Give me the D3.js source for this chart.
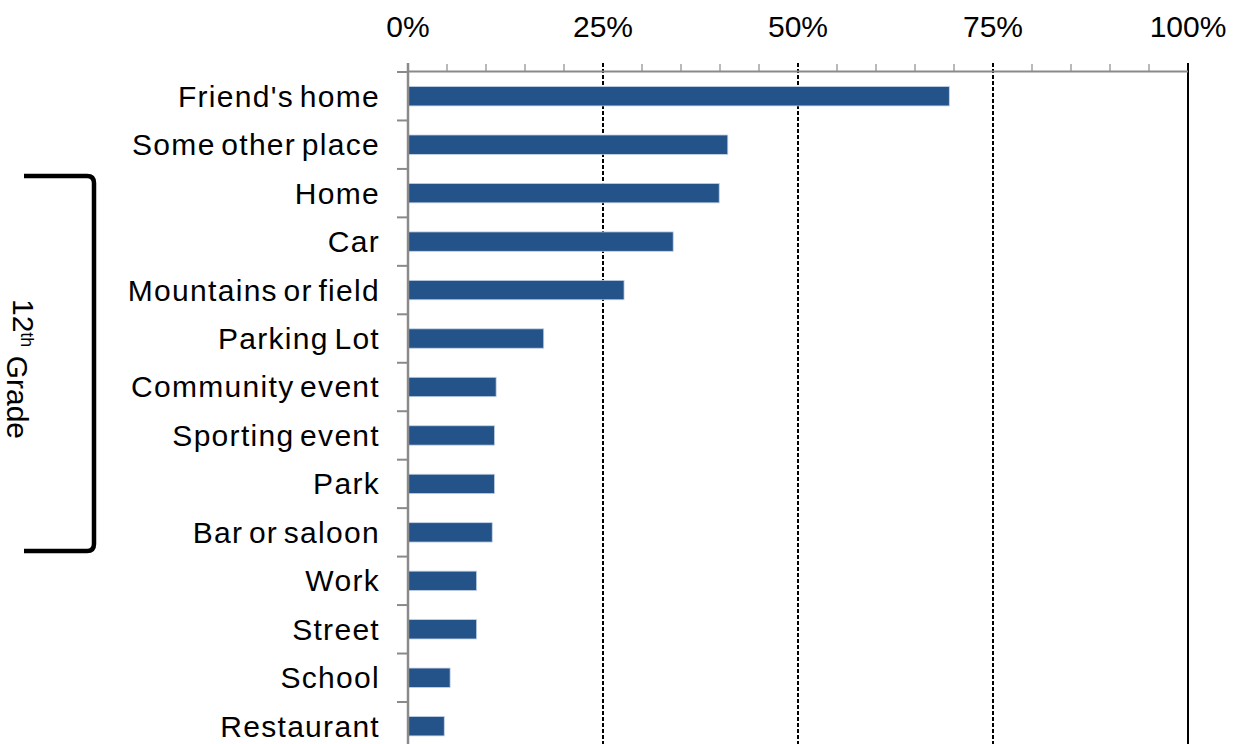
<!DOCTYPE html>
<html>
<head>
<meta charset="utf-8">
<script src="https://cdn.jsdelivr.net/npm/d3@7"></script>
<style>
  html, body { margin: 0; padding: 0; background: #fff; }
  svg { display: block; }
  text { font-family: "Liberation Sans", Arial, sans-serif; fill: #000; }
</style>
</head>
<body>
<div id="chart"></div>
<script>
const categories = ["Friend's home", "Some other place", "Home", "Car", "Mountains or field",
  "Parking Lot", "Community event", "Sporting event", "Park", "Bar or saloon",
  "Work", "Street", "School", "Restaurant"];
const values = [69.4, 41.0, 39.9, 34.0, 27.7, 17.4, 11.3, 11.1, 11.1, 10.8, 8.8, 8.8, 5.4, 4.65];
const majorTicks = [0, 25, 50, 75, 100];
const minorTicks = d3.range(0, 101, 5);
const bracketLabel = "12";
const bracketSup = "th";
const bracketWord = " Grade";

const W = 1243, H = 744;
const svg = d3.select("#chart").append("svg").attr("width", W).attr("height", H);

const x = d3.scaleLinear().domain([0, 100]).range([408, 1188]);
const step = 48.46;
const y = d3.scaleBand().domain(categories)
  .range([72, 72 + step * categories.length])
  .paddingInner(0.6).paddingOuter(0.3);

const axisY = 71.5;
const gridTop = 63;

// gridlines (dashed at 25,50,75; solid at 100)
svg.append("g").selectAll("line").data(majorTicks.filter(d => d > 0)).join("line")
  .attr("x1", d => x(d)).attr("x2", d => x(d))
  .attr("y1", gridTop).attr("y2", H + 10)
  .attr("stroke", "#000").attr("stroke-width", 2)
  .attr("stroke-dasharray", d => d === 100 ? null : "4,2");

// bars
svg.append("g").selectAll("rect").data(categories).join("rect")
  .attr("x", x(0))
  .attr("y", d => y(d))
  .attr("width", (d, i) => x(values[i]) - x(0))
  .attr("height", y.bandwidth())
  .attr("fill", "#245389")
  .attr("stroke", "#c3d2e6").attr("stroke-width", 0.8);

// top axis line and minor ticks
svg.append("line").attr("x1", x(0)).attr("x2", x(100)).attr("y1", axisY).attr("y2", axisY)
  .attr("stroke", "#8a8a8a").attr("stroke-width", 2);
svg.append("g").selectAll("line").data(minorTicks.filter(d => d % 25 !== 0)).join("line")
  .attr("x1", d => x(d)).attr("x2", d => x(d))
  .attr("y1", gridTop + 1).attr("y2", axisY)
  .attr("stroke", "#8a8a8a").attr("stroke-width", 1.2);

// top tick labels
svg.append("g").selectAll("text").data(majorTicks).join("text")
  .attr("x", d => x(d)).attr("y", 37)
  .attr("text-anchor", "middle")
  .style("font-size", "30px")
  .text(d => d + "%");

// left axis line
svg.append("line").attr("x1", x(0)).attr("x2", x(0)).attr("y1", gridTop).attr("y2", H + 10)
  .attr("stroke", "#8a8a8a").attr("stroke-width", 2.5);
// category boundary ticks
const bounds = d3.range(categories.length + 1).map(k => y.range()[0] + k * y.step());
svg.append("g").selectAll("line").data(bounds).join("line")
  .attr("x1", x(0) - 11).attr("x2", x(0))
  .attr("y1", d => d).attr("y2", d => d)
  .attr("stroke", "#8a8a8a").attr("stroke-width", 2);

// category labels
svg.append("g").selectAll("text").data(categories).join("text")
  .attr("x", 380)
  .attr("y", d => y(d) + y.bandwidth() / 2)
  .attr("dy", "0.35em")
  .attr("text-anchor", "end")
  .style("font-size", "30px")
  .style("letter-spacing", "1.3px")
  .style("word-spacing", "-4px")
  .text(d => d);

// bracket
const bx = 94, bl = 24, bt = 176, bb = 551, r = 7;
svg.append("path")
  .attr("d", `M${bl},${bt} L${bx - r},${bt} Q${bx},${bt} ${bx},${bt + r} L${bx},${bb - r} Q${bx},${bb} ${bx - r},${bb} L${bl},${bb}`)
  .attr("fill", "none").attr("stroke", "#000").attr("stroke-width", 4.5);

const lbl = svg.append("text")
  .attr("transform", "translate(23,369) rotate(90)")
  .attr("text-anchor", "middle")
  .attr("dy", "0.35em")
  .style("font-size", "30px");
lbl.append("tspan").text(bracketLabel);
lbl.append("tspan").attr("dy", "-0.45em").style("font-size", "18px").text(bracketSup);
lbl.append("tspan").attr("dy", "0.45em").text(bracketWord);
</script>
</body>
</html>
